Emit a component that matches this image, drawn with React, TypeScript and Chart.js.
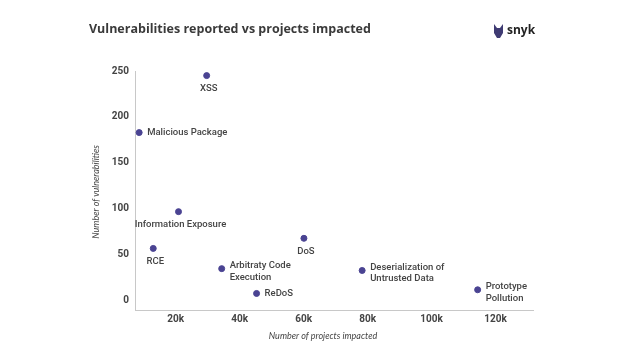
import React, { useEffect, useRef } from "react";
import { Chart, registerables } from "chart.js";

Chart.register(...registerables);

const categories = [
  "XSS",
  "Malicious Package",
  "Information Exposure",
  "RCE",
  "Arbitraty Code\nExecution",
  "ReDoS",
  "DoS",
  "Deserialization of\nUntrusted Data",
  "Prototype\nPollution",
];
const projectsImpacted = [29700, 8600, 20900, 13000, 34400, 45300, 60100, 78300, 114400];
const vulnerabilities = [245, 183, 97, 57, 35, 8, 68, 33, 12];
const xTicks = [20000, 40000, 60000, 80000, 100000, 120000];
const yTicks = [0, 50, 100, 150, 200, 250];
const labelPlacement = ["below", "right", "below", "below", "right", "right", "below", "right", "right"];

const TITLE = "Vulnerabilities reported vs projects impacted";
const X_TITLE = "Number of projects impacted";
const Y_TITLE = "Number of vulnerabilities";

const W = 639;
const H = 353;

const decorPlugin = {
  id: "decor",
  afterDatasetsDraw(chart: any) {
    const ctx = chart.ctx;
    const meta = chart.getDatasetMeta(0);
    ctx.save();
    ctx.fillStyle = "#444";
    ctx.font = "500 9.5px Roboto";
    meta.data.forEach((pt: any, i: number) => {
      const lines = categories[i].split("\n");
      if (labelPlacement[i] === "below") {
        ctx.textAlign = "center";
        ctx.textBaseline = "middle";
        lines.forEach((l, j) => ctx.fillText(l, pt.x + 2, pt.y + 13 + j * 11.5));
      } else {
        ctx.textAlign = "left";
        ctx.textBaseline = "middle";
        const start = lines.length > 1 ? pt.y - 3 : pt.y;
        lines.forEach((l, j) => ctx.fillText(l, pt.x + 8, start + j * 11.5));
      }
    });
    // title
    ctx.fillStyle = "#3a3a3a";
    ctx.font = "bold 12.5px 'Open Sans'";
    ctx.textAlign = "left";
    ctx.textBaseline = "middle";
    ctx.fillText(TITLE, 89, 29);
    // axis titles
    ctx.fillStyle = "#444";
    ctx.font = "italic 9px Lato";
    ctx.textAlign = "center";
    ctx.fillText(X_TITLE, 323, 336);
    ctx.save();
    ctx.translate(96, 192);
    ctx.rotate(-Math.PI / 2);
    ctx.fillText(Y_TITLE, 0, 0);
    ctx.restore();
    // snyk logo
    ctx.fillStyle = "#3f3b73";
    ctx.beginPath();
    ctx.moveTo(494, 24);
    ctx.lineTo(497, 28);
    ctx.lineTo(500, 28);
    ctx.lineTo(503, 24);
    ctx.lineTo(503, 33);
    ctx.lineTo(500, 38);
    ctx.lineTo(497, 38);
    ctx.lineTo(494, 33);
    ctx.closePath();
    ctx.fill();
    ctx.fillStyle = "#222";
    ctx.font = "bold 12px 'Open Sans'";
    ctx.textAlign = "left";
    ctx.fillText("snyk", 507, 31);
    ctx.restore();
  },
};

export default function App() {
  const ref = useRef<HTMLCanvasElement>(null);
  useEffect(() => {
    document.body.style.margin = "0";
    const chart = new Chart(ref.current!, {
      type: "scatter",
      data: {
        datasets: [
          {
            data: projectsImpacted.map((x, i) => ({ x, y: vulnerabilities[i] })),
            backgroundColor: "#4a4392",
            borderColor: "#4a4392",
            pointRadius: 3,
          },
        ],
      },
      options: {
        animation: false,
        responsive: false,
        layout: { padding: { top: 71, right: 106, left: 0, bottom: 0 } },
        plugins: { legend: { display: false }, tooltip: { enabled: false } },
        scales: {
          x: {
            type: "linear",
            min: 7300,
            max: 131700,
            grid: { display: false, drawTicks: false },
            border: { display: true, color: "#c8c8c8", width: 1 },
            afterBuildTicks: (s: any) => {
              s.ticks = xTicks.map((v) => ({ value: v }));
            },
            afterFit: (s: any) => {
              s.height = H - 310;
            },
            ticks: {
              padding: 3,
              color: "#444",
              font: { family: "Roboto", size: 10, weight: "bold" },
              callback: (v: any) => v / 1000 + "k",
              maxRotation: 0,
            },
          },
          y: {
            type: "linear",
            min: -10,
            max: 250,
            grid: { display: false, drawTicks: false },
            border: { display: true, color: "#c8c8c8", width: 1 },
            afterBuildTicks: (s: any) => {
              s.ticks = yTicks.map((v) => ({ value: v }));
            },
            afterFit: (s: any) => {
              s.width = 135;
            },
            ticks: {
              padding: 6,
              color: "#444",
              font: { family: "Roboto", size: 10, weight: "bold" },
            },
          },
        },
      },
      plugins: [decorPlugin],
    });
    return () => chart.destroy();
  }, []);
  return <canvas ref={ref} width={W} height={H} style={{ display: "block" }} />;
}
